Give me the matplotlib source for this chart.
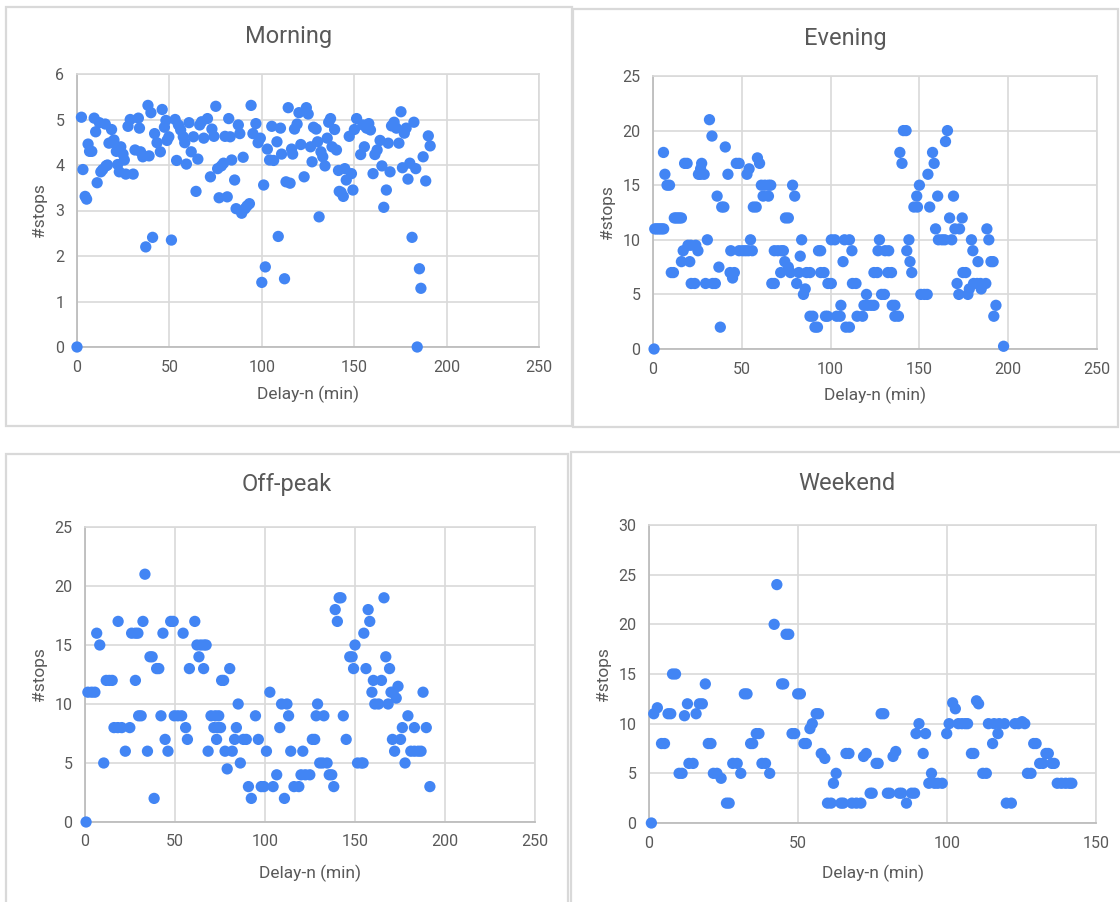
import matplotlib
matplotlib.use("Agg")
import matplotlib.pyplot as plt
from matplotlib.patches import Rectangle

# delay (min) vs number of stops, one scatter per time band
morning_delay = [0, 2.4, 3.2, 4.4, 5.2, 6, 6.8, 8, 9.3, 10.1,
                 10.9, 12.1, 12.9, 13.9, 15.3, 15.7, 16.5, 17.3, 18.7, 18.9,
                 20, 21.3, 22, 22.9, 23.7, 24.9, 25.6, 26.4, 27.6, 28.8,
                 30.4, 31.4, 33.2, 33.8, 34.4, 35.6, 37.2, 38.4, 39, 40,
                 40.9, 42, 43.3, 45.1, 46.1, 47.3, 48.1, 48.7, 49.7, 51.1,
                 53.1, 53.9, 54.9, 56.1, 57.5, 58.3, 59.2, 60.6, 61.8, 63,
                 64.4, 65.4, 66.4, 67.4, 68.6, 70.6, 72.2, 73, 74.1, 75.1,
                 76.1, 76.9, 78.1, 79.3, 80.1, 81.3, 82.1, 82.9, 83.7, 85.3,
                 86.1, 87.3, 88.1, 89.1, 89.9, 90.9, 92, 93.3, 94.2, 95.2,
                 96.8, 98, 99.2, 100, 101, 101.9, 103, 104.2, 105.4, 106.4,
                 108.2, 108.9, 110.1, 110.7, 112.3, 113.1, 114.3, 115.3, 116.1, 116.7,
                 117.7, 119.1, 120.1, 121.1, 122.9, 124.1, 125.1, 126.4, 127.2, 128,
                 129.4, 130.2, 131, 132, 133, 134.2, 135.4, 136.2, 137.2, 138,
                 139.4, 140.4, 141.5, 141.9, 142.9, 144.1, 144.9, 145.7, 147.3, 148.5,
                 149.3, 150.1, 151.3, 153.5, 154.7, 155.5, 156.7, 157.9, 158.8, 160.2,
                 161.2, 162.4, 164, 165, 166, 167.4, 168.4, 169.4, 170.2, 171.6,
                 172.8, 174.2, 175.3, 176.1, 177.1, 178.1, 179.1, 180.1, 181.3, 182.3,
                 183.3, 184.1, 185.3, 186.1, 187.3, 188.7, 190.1, 191.1]
morning_stops = [0, 5.05, 3.9, 3.31, 3.25, 4.46, 4.3, 4.3, 5.03, 4.73,
                 3.61, 4.93, 3.85, 3.9, 4.9, 3.98, 4.0, 4.48, 4.78, 4.5,
                 4.55, 4.3, 4.01, 3.85, 4.4, 4.24, 4.11, 3.8, 4.85, 5.0,
                 3.8, 4.33, 5.03, 4.81, 4.29, 4.18, 2.2, 5.31, 4.2, 5.15,
                 2.41, 4.69, 4.49, 4.29, 5.22, 4.83, 4.98, 4.54, 4.62, 2.35,
                 5.0, 4.1, 4.88, 4.77, 4.62, 4.49, 4.02, 4.93, 4.29, 4.62,
                 3.42, 4.13, 4.88, 4.95, 4.59, 5.02, 3.74, 4.79, 4.63, 5.29,
                 3.92, 3.28, 3.98, 4.04, 4.63, 3.3, 5.02, 4.62, 4.11, 3.67,
                 3.04, 4.88, 4.69, 2.94, 4.17, 3.04, 3.1, 3.15, 5.31, 4.69,
                 4.91, 4.49, 4.59, 1.42, 3.56, 1.76, 4.35, 4.11, 4.85, 4.1,
                 4.51, 2.43, 4.81, 4.24, 1.5, 3.63, 5.26, 3.6, 4.35, 4.24,
                 4.79, 4.9, 5.15, 4.45, 3.74, 5.26, 5.12, 4.4, 4.07, 4.83,
                 4.79, 4.51, 2.86, 4.29, 4.18, 3.98, 4.59, 4.94, 5.02, 4.4,
                 4.78, 4.33, 3.88, 3.42, 3.4, 3.31, 3.92, 3.67, 4.63, 3.81,
                 3.45, 4.78, 5.02, 4.23, 4.88, 4.4, 4.81, 4.91, 4.77, 3.81,
                 4.23, 4.33, 4.54, 3.98, 3.07, 3.45, 4.48, 3.85, 4.86, 4.94,
                 4.81, 4.48, 5.17, 3.94, 4.7, 4.81, 3.69, 4.04, 2.41, 4.94,
                 3.92, 0, 1.72, 1.29, 4.18, 3.65, 4.64, 4.42]

evening_delay = [0.6, 1, 2, 3, 4, 5, 6, 5.9, 6.7, 7.9,
                 9.3, 10.3, 11.5, 12, 13, 14, 15, 16, 16, 17,
                 17.8, 19.2, 19.7, 20.7, 21.3, 21.5, 23.5, 24.1, 25.3, 25.6,
                 26.8, 27.4, 26.8, 28.8, 29.6, 30.6, 31.8, 33.2, 33.6, 35.1,
                 36.1, 37.1, 37.9, 38.7, 39.9, 40.7, 42.2, 43.4, 45.8, 43.8,
                 44.8, 46.9, 48.5, 48.5, 50.5, 52.1, 53.7, 52.9, 54.1, 54.9,
                 55.9, 56.5, 58.1, 58.8, 60, 61, 63, 65, 66.3, 62,
                 65, 66.9, 68.3, 68.3, 70.3, 72.3, 73.4, 71.9, 74.2, 74.6,
                 76.2, 76.2, 77.4, 78.6, 79.8, 80.9, 82.1, 82.9, 83.7, 84.7,
                 85.7, 86.5, 88.4, 88.4, 90, 91.2, 92.6, 93.2, 94.4, 94.4,
                 96.3, 97.1, 98.3, 98.5, 100.4, 100.4, 102.4, 103.4, 105.4, 105.8,
                 107, 107.8, 110.6, 108.6, 110.6, 112, 112.3, 114.3, 114.9, 118,
                 120.2, 118.8, 120.8, 122.8, 124.4, 124.4, 126.3, 126.7, 127.5, 128.7,
                 130.3, 130.7, 132.7, 132.3, 134.3, 134.7, 136.2, 136.2, 138.2, 139,
                 140.2, 141, 142.5, 142.9, 144.1, 144.7, 145.7, 146.9, 148.9, 148.5,
                 150, 150.8, 152.8, 154.4, 154.8, 155.8, 157.4, 158.3, 159.1, 160.3,
                 160.7, 162.7, 164.3, 164.7, 165.8, 167, 168.2, 169.2, 170, 172.6,
                 171.2, 172.2, 174.1, 174.5, 176.1, 177.3, 178.1, 179.3, 180.1, 180.5,
                 182.5, 184.4, 187.4, 183, 184.8, 188, 189.1, 190.3, 191.5, 191.9,
                 193.1, 197.4]
evening_stops = [0, 11, 11, 11, 11, 11, 11, 18, 16, 15,
                 15, 7, 7, 12, 12, 12, 12, 12, 8, 9,
                 17, 17, 9.5, 8, 9.5, 6, 6, 9.5, 9, 16,
                 16, 17, 16.5, 16, 6, 10, 21, 19.5, 6, 6,
                 14, 7.5, 2, 13, 13, 18.5, 16, 7, 7, 9,
                 6.5, 17, 17, 9, 9, 9, 9, 16, 16.5, 10,
                 9, 13, 13, 17.5, 17, 15, 15, 15, 15, 14,
                 14, 6, 6, 9, 9, 9, 9, 7, 8, 12,
                 12, 7.5, 7, 15, 14, 6, 7, 8.5, 10, 5,
                 5.5, 7, 7, 3, 3, 2, 2, 9, 9, 7,
                 7, 3, 3, 6, 6, 10, 10, 3, 3, 4,
                 8, 10, 10, 2, 2, 9, 6, 6, 3, 3,
                 5, 4, 4, 4, 4, 7, 7, 9, 10, 5,
                 5, 9, 9, 7, 7, 4, 4, 3, 3, 18,
                 17, 20, 20, 9, 10, 8, 7, 13, 13, 14,
                 15, 5, 5, 5, 16, 13, 18, 17, 11, 14,
                 10, 10, 10, 19, 20, 12, 10, 14, 11, 11,
                 6, 5, 12, 7, 7, 5, 5.5, 10, 9, 6,
                 6, 6, 6, 8, 5.5, 11, 10, 8, 8, 3,
                 4, 0.25]

offpeak_delay = [0.6, 1.6, 3.7, 5.5, 6.5, 8.2, 10.4, 11.8, 13.5, 15.1,
                 16.1, 18.2, 20.4, 18.4, 22.4, 24.9, 25.9, 28, 29.4, 28,
                 29.8, 31.2, 32.2, 33.3, 34.7, 36.1, 37.3, 38.4, 39.8, 41,
                 42.2, 43.3, 44.5, 46.1, 47.6, 49, 49.6, 51.6, 53.7, 54.5,
                 55.9, 56.9, 58, 61, 62.2, 64.3, 66.1, 67.3, 63.3, 65.9,
                 68.4, 70, 72.4, 74.3, 71.6, 73.7, 75.3, 73.1, 75.9, 77,
                 77.8, 79, 80.4, 81.8, 83.1, 84.1, 85.1, 86.3, 88, 89.6,
                 90.8, 92.4, 94.7, 96.3, 97.9, 99.4, 100.8, 102.7, 104.5, 106.5,
                 108.2, 109.2, 110.8, 112.2, 113.1, 114.3, 116.1, 118.8, 121, 120,
                 122.4, 124.9, 126.3, 127.6, 128.4, 129.2, 130.4, 132, 134.5, 132.7,
                 135.7, 137.1, 138.2, 139, 140.2, 141.2, 142.2, 143.5, 145.1, 147.1,
                 148.4, 149.2, 150, 151.4, 153.5, 154.5, 154.9, 156.1, 157.3, 158.2,
                 159.4, 160.2, 161, 163.1, 164.7, 166.1, 167.1, 168.4, 169.2, 170,
                 171.2, 170.8, 172, 172.9, 173.9, 175.3, 176.3, 177.8, 179.4, 181,
                 183, 185.1, 186.7, 183, 187.8, 189.6, 191.6]
offpeak_stops = [0, 11, 11, 11, 16, 15, 5, 12, 12, 12,
                 8, 8, 8, 17, 6, 8, 16, 16, 16, 12,
                 9, 9, 17, 21, 6, 14, 14, 2, 13, 13,
                 9, 16, 7, 6, 17, 17, 9, 9, 9, 16,
                 8, 7, 13, 17, 15, 15, 15, 15, 14, 13,
                 6, 9, 9, 9, 8, 8, 8, 7, 12, 12,
                 6, 4.5, 13, 6, 7, 8, 10, 5, 7, 7,
                 3, 2, 9, 7, 3, 3, 6, 11, 3, 4,
                 8, 10, 2, 10, 9, 6, 3, 3, 6, 4,
                 4, 4, 7, 7, 9, 10, 5, 5, 5, 9,
                 4, 4, 3, 18, 17, 19, 19, 9, 7, 14,
                 14, 13, 15, 5, 5, 5, 16, 13, 18, 17,
                 11, 12, 10, 10, 12, 19, 14, 10, 13, 11,
                 11, 7, 6, 10.5, 11.5, 7, 8, 5, 9, 6,
                 6, 6, 6, 8, 11, 8, 3]

weekend_delay = [0.8, 1.6, 2.8, 4.2, 5.2, 6.4, 7.3, 7.9, 8.9, 10.1,
                 11.1, 11.9, 12.9, 13.4, 14.8, 15.8, 16.9, 17.9, 18.9, 19.9,
                 20.8, 21.6, 22.8, 24.2, 26, 26.9, 28.1, 29.6, 30.8, 32,
                 32.9, 34.1, 34.8, 36, 36.9, 37.9, 39.1, 40.5, 42, 42.9,
                 44.5, 45.2, 46, 46.9, 48, 48.9, 49.9, 50.8, 52, 52.8,
                 54, 54.8, 56.1, 56.9, 57.8, 59, 59.9, 61.1, 61.9, 62.8,
                 64.4, 65.2, 66.1, 67.1, 68.1, 69.6, 71.1, 72, 72.9, 74.2,
                 74.9, 76.2, 76.9, 77.9, 78.8, 80, 80.8, 81.9, 82.8, 84,
                 84.8, 86.4, 88.1, 89.1, 89.6, 90.6, 92, 92.8, 93.9, 94.8,
                 95.8, 96.9, 98.4, 99.9, 100.7, 101.9, 102.8, 103.8, 105, 106.1,
                 106.9, 108.2, 109, 109.9, 110.6, 112, 113.2, 113.9, 115.8, 117.5,
                 119.3, 115.3, 117.1, 119.9, 121.6, 122.8, 124, 125.2, 126.1, 127,
                 128.2, 129.1, 129.9, 131.1, 132.2, 133.2, 134, 135.2, 136, 137,
                 138.4, 139.8, 141.1, 141.9]
weekend_stops = [0, 11, 11.6, 8, 8, 11, 11, 15, 15, 5,
                 5, 10.8, 12, 6, 6, 11, 12, 12, 14, 8,
                 8, 5, 5, 4.5, 2, 2, 6, 6, 5, 13,
                 13, 8, 8, 9, 9, 6, 6, 5, 20, 24,
                 14, 14, 19, 19, 9, 9, 13, 13, 8, 8,
                 9.5, 10, 11, 11, 7, 6.5, 2, 2, 4, 5,
                 2, 2, 7, 7, 2, 2, 2, 6.7, 7, 3,
                 3, 6, 6, 11, 11, 3, 3, 6.7, 7.2, 3,
                 3, 2, 3, 3, 9, 10, 7, 9, 4, 5,
                 4, 4, 4, 9, 10, 12.1, 11.5, 10, 10, 10,
                 10, 7, 7, 12.3, 12, 5, 5, 10, 10, 10,
                 10, 8, 9, 2, 2, 10, 10, 10.2, 10, 5,
                 5, 8, 8, 6, 6, 7, 7, 6, 6, 4,
                 4, 4, 4, 4]

W, H = 1120, 902
BLUE = '#4285f4'
GRID = '#d9d9d9'
TEXT = '#595959'

plt.rcParams['font.family'] = ['Roboto', 'DejaVu Sans']

fig = plt.figure(figsize=(W / 100, H / 100), dpi=100)


def px_rect(x0, y0, x1, y1):
    # pixel box (top-left origin) -> figure fraction [left, bottom, width, height]
    return [x0 / W, 1 - y1 / H, (x1 - x0) / W, (y1 - y0) / H]


def draw_panel(box, area, title, title_y, xlab_y, ylab_x, xs, ys, xmax, ymax, ystep):
    l, b, w, h = px_rect(*box)
    fig.patches.append(Rectangle((l, b), w, h, transform=fig.transFigure,
                                 fill=False, edgecolor=GRID, lw=1.6))
    ax = fig.add_axes(px_rect(*area))
    ax.scatter(xs, ys, s=66, color=BLUE, edgecolors='none', zorder=3, clip_on=False)
    ax.set_xlim(0, xmax)
    ax.set_ylim(0, ymax)
    ax.set_xticks(range(0, xmax + 1, 50))
    ax.set_yticks(range(0, ymax + 1, ystep))
    ax.grid(True, color=GRID, lw=1.2)
    ax.set_axisbelow(True)
    for side in ['top', 'right']:
        ax.spines[side].set_color(GRID)
        ax.spines[side].set_linewidth(1.2)
    for side in ['left', 'bottom']:
        ax.spines[side].set_color('#bdbdbd')
        ax.spines[side].set_linewidth(1.3)
    ax.tick_params(length=0, labelsize=11.5, labelcolor=TEXT)
    ax.tick_params(axis='x', pad=9)
    ax.tick_params(axis='y', pad=9)
    # title sits over the whole card, axis labels over the plot area
    bx = (box[0] + box[2]) / 2
    cx = (area[0] + area[2]) / 2
    cy = (area[1] + area[3]) / 2
    fig.text(bx / W, 1 - title_y / H, title, ha='center', va='center',
             fontsize=17, color=TEXT)
    fig.text(cx / W, 1 - xlab_y / H, 'Delay-n (min)', ha='center', va='center',
             fontsize=12.5, color=TEXT)
    fig.text(ylab_x / W, 1 - cy / H, '#stops', ha='center', va='center',
             rotation=90, fontsize=12.5, color=TEXT)
    return ax


draw_panel((6, 7, 572, 426), (77, 74, 539, 347), 'Morning', 37, 394, 40,
           morning_delay, morning_stops, 250, 6, 1)
draw_panel((573, 9, 1118, 427), (653, 76, 1097, 349), 'Evening', 38, 395, 607,
           evening_delay, evening_stops, 250, 25, 5)
draw_panel((6, 454, 568, 905), (85, 527, 535, 822), 'Off-peak', 485, 873, 40,
           offpeak_delay, offpeak_stops, 250, 25, 5)
draw_panel((571, 452, 1122, 905), (649, 525, 1096, 823), 'Weekend', 483, 873, 603,
           weekend_delay, weekend_stops, 150, 30, 5)

fig.savefig('out.png', dpi=100, facecolor='white')
